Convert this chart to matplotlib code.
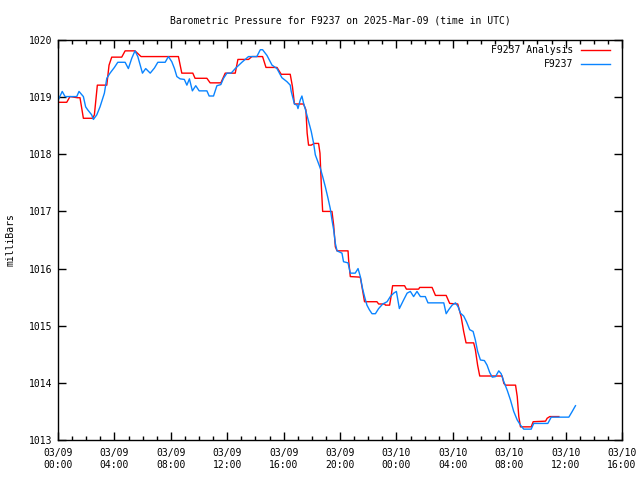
import matplotlib
matplotlib.use("Agg")
import matplotlib.pyplot as plt
from matplotlib.ticker import MultipleLocator

# hours since 03/09 00:00 UTC
analysis_h = [0.0, 0.62, 0.85, 1.37, 1.56, 1.80, 2.46, 2.58, 2.79, 3.46, 3.62, 3.81,
              4.52, 4.76, 5.46, 5.89, 8.54, 8.78, 9.56, 9.72, 10.56, 10.79, 11.55,
              11.86, 12.57, 12.76, 13.51, 13.75, 14.51, 14.75, 15.53, 15.83, 16.47,
              16.63, 16.77, 17.41, 17.58, 17.67, 17.77, 17.96, 18.17, 18.48, 18.58,
              18.68, 18.77, 19.43, 19.55, 19.67, 19.79, 20.57, 20.61, 20.73, 21.44,
              21.56, 21.74, 22.62, 22.74, 23.17, 23.22, 23.52, 23.64, 23.73, 24.58,
              24.71, 25.58, 25.65, 26.53, 26.77, 27.53, 27.78, 28.35, 28.59, 28.77,
              28.94, 29.48, 29.60, 29.76, 29.91, 31.50, 31.62, 31.74, 32.45, 32.57,
              32.68, 32.80, 33.56, 33.70, 34.58, 34.69, 34.88, 35.52]
analysis_p = [1018.91, 1018.91, 1019.01, 1018.99, 1018.99, 1018.63, 1018.63, 1018.69,
              1019.21, 1019.21, 1019.56, 1019.70, 1019.70, 1019.81, 1019.81, 1019.71,
              1019.71, 1019.42, 1019.42, 1019.33, 1019.33, 1019.25, 1019.25, 1019.42,
              1019.42, 1019.66, 1019.66, 1019.71, 1019.71, 1019.52, 1019.52, 1019.40,
              1019.40, 1019.18, 1018.88, 1018.88, 1018.78, 1018.37, 1018.16, 1018.16,
              1018.19, 1018.19, 1018.02, 1017.43, 1017.00, 1017.00, 1016.76, 1016.38,
              1016.31, 1016.31, 1016.15, 1015.86, 1015.85, 1015.68, 1015.42, 1015.42,
              1015.38, 1015.38, 1015.36, 1015.36, 1015.54, 1015.70, 1015.70, 1015.64,
              1015.64, 1015.67, 1015.67, 1015.53, 1015.53, 1015.39, 1015.38, 1015.16,
              1014.90, 1014.70, 1014.70, 1014.58, 1014.31, 1014.12, 1014.12, 1013.99,
              1013.96, 1013.96, 1013.76, 1013.41, 1013.23, 1013.23, 1013.32, 1013.33,
              1013.38, 1013.41, 1013.41]

station_h = [0.02, 0.30, 0.50, 1.33, 1.49, 1.80, 1.96, 2.10, 2.39, 2.51, 2.75, 2.98,
             3.29, 3.46, 3.69, 4.00, 4.24, 4.76, 4.99, 5.23, 5.46, 5.66, 5.99, 6.22,
             6.54, 6.84, 7.08, 7.60, 7.83, 8.07, 8.26, 8.43, 8.66, 8.96, 9.14, 9.32,
             9.53, 9.77, 10.01, 10.56, 10.72, 11.03, 11.27, 11.55, 11.74, 11.98, 12.28,
             12.57, 13.04, 13.51, 14.10, 14.35, 14.51, 14.82, 15.18, 15.53, 15.88,
             16.24, 16.47, 16.54, 16.70, 16.77, 16.95, 17.02, 17.18, 17.30, 17.41,
             17.53, 17.65, 17.82, 17.96, 18.13, 18.25, 18.43, 18.61, 18.77, 18.96,
             19.15, 19.31, 19.43, 19.55, 19.67, 19.79, 20.14, 20.25, 20.57, 20.73,
             21.08, 21.28, 21.44, 21.60, 21.74, 21.91, 22.08, 22.27, 22.51, 22.74,
             23.03, 23.34, 23.57, 23.81, 24.00, 24.21, 24.51, 24.76, 24.99, 25.22,
             25.46, 25.70, 26.05, 26.24, 27.36, 27.53, 27.71, 27.95, 28.19, 28.38,
             28.54, 28.77, 28.97, 29.20, 29.44, 29.60, 29.76, 29.96, 30.24, 30.43,
             30.62, 30.80, 31.03, 31.26, 31.43, 31.62, 31.86, 32.09, 32.32, 32.57,
             32.80, 33.03, 33.56, 33.74, 34.74, 34.98, 36.23, 36.47, 36.70]
station_p = [1018.95, 1019.10, 1019.01, 1019.01, 1019.10, 1019.01, 1018.83, 1018.78,
             1018.69, 1018.61, 1018.69, 1018.83, 1019.07, 1019.33, 1019.42, 1019.52,
             1019.61, 1019.61, 1019.50, 1019.68, 1019.81, 1019.71, 1019.42, 1019.50,
             1019.42, 1019.51, 1019.61, 1019.61, 1019.71, 1019.62, 1019.50, 1019.36,
             1019.32, 1019.31, 1019.21, 1019.32, 1019.11, 1019.20, 1019.11, 1019.11,
             1019.02, 1019.02, 1019.20, 1019.22, 1019.33, 1019.42, 1019.42, 1019.50,
             1019.61, 1019.71, 1019.71, 1019.83, 1019.83, 1019.73, 1019.56, 1019.50,
             1019.34, 1019.27, 1019.21, 1019.10, 1018.95, 1018.88, 1018.86, 1018.80,
             1018.95, 1019.02, 1018.90, 1018.80, 1018.69, 1018.54, 1018.40, 1018.19,
             1017.99, 1017.87, 1017.75, 1017.61, 1017.43, 1017.23, 1017.05, 1016.85,
             1016.68, 1016.44, 1016.31, 1016.27, 1016.12, 1016.10, 1015.92, 1015.92,
             1016.00, 1015.86, 1015.65, 1015.51, 1015.36, 1015.28, 1015.21, 1015.21,
             1015.30, 1015.38, 1015.42, 1015.51, 1015.57, 1015.60, 1015.30, 1015.45,
             1015.57, 1015.60, 1015.51, 1015.60, 1015.51, 1015.51, 1015.40, 1015.40,
             1015.21, 1015.28, 1015.36, 1015.40, 1015.33, 1015.22, 1015.17, 1015.07,
             1014.93, 1014.90, 1014.75, 1014.55, 1014.40, 1014.39, 1014.31, 1014.18,
             1014.10, 1014.11, 1014.21, 1014.16, 1014.02, 1013.87, 1013.70, 1013.50,
             1013.35, 1013.26, 1013.19, 1013.19, 1013.29, 1013.29, 1013.40, 1013.40,
             1013.50, 1013.60]

tick_hours = [0, 4, 8, 12, 16, 20, 24, 28, 32, 36, 40]
tick_labels = ["03/09\n00:00", "03/09\n04:00", "03/09\n08:00", "03/09\n12:00",
               "03/09\n16:00", "03/09\n20:00", "03/10\n00:00", "03/10\n04:00",
               "03/10\n08:00", "03/10\n12:00", "03/10\n16:00"]
y_ticks = [1013, 1014, 1015, 1016, 1017, 1018, 1019, 1020]

plt.rcParams['font.family'] = 'DejaVu Sans Mono'
plt.rcParams['font.size'] = 7


def main():
    fig = plt.figure(figsize=(6.4, 4.8), dpi=100)
    ax = fig.add_axes([58 / 640, 40 / 480, 564 / 640, 400 / 480])

    ax.plot(analysis_h, analysis_p, color='#ff0000', lw=1.0, label='F9237 Analysis')
    ax.plot(station_h, station_p, color='#0a84ff', lw=1.0, label='F9237')

    ax.set_xlim(0, 40)
    ax.set_ylim(1013, 1020)
    ax.set_xticks(tick_hours)
    ax.set_xticklabels(tick_labels)
    ax.xaxis.set_minor_locator(MultipleLocator(1))
    ax.set_yticks(y_ticks)
    ax.tick_params(which='both', direction='in', top=True, right=True, width=1,
                   labelsize=7)
    ax.tick_params(axis='x', pad=6)
    ax.tick_params(axis='y', pad=4)
    ax.tick_params(which='major', length=6)
    ax.tick_params(which='minor', length=3)
    for s in ax.spines.values():
        s.set_linewidth(1)

    ax.set_ylabel("milliBars", fontsize=7, labelpad=10)
    ax.set_title("Barometric Pressure for F9237 on 2025-Mar-09 (time in UTC)",
                 fontsize=7, pad=12)
    ax.legend(loc='upper right', bbox_to_anchor=(552 / 564, 395 / 400),
              frameon=False, markerfirst=False, handlelength=3.0, fontsize=7,
              borderaxespad=0, borderpad=0, labelspacing=0.45, handletextpad=0.75)

    fig.savefig("out.png", dpi=100)


if __name__ == "__main__":
    main()
